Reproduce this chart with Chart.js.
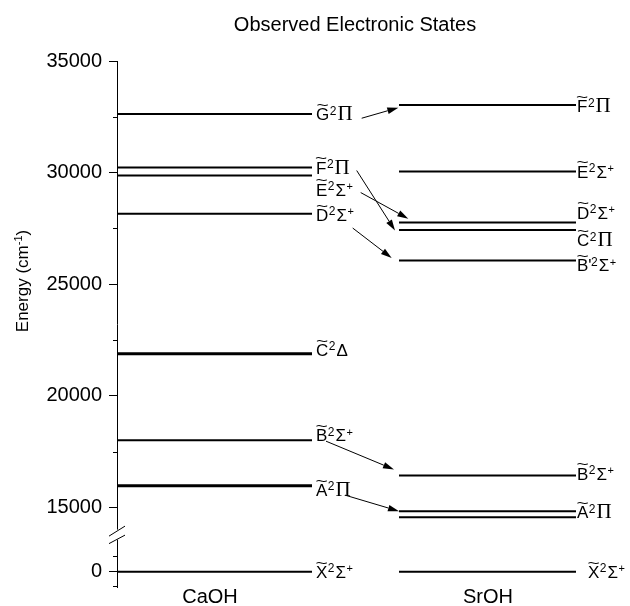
<!DOCTYPE html>
<html><head><meta charset="utf-8">
<script src="https://cdn.jsdelivr.net/npm/chart.js@4.4.1/dist/chart.umd.min.js"></script>
<style>html,body{margin:0;padding:0;background:#fff}#wrap{width:630px;height:606px}</style>
</head><body><div id="wrap"><canvas id="c" width="630" height="606"></canvas></div>
<script>
// ---------- data ----------
const categories = ['CaOH', 'SrOH'];
const yTickValues = [0, 15000, 20000, 25000, 30000, 35000];
const caohLabels = ['G:Π', 'F:Π', 'E:Σ+', 'D:Σ+', 'C:Δ', 'B:Σ+', 'A:Π', 'X:Σ+'];
const caohEnergies = [32630, 30230, 29870, 28160, 21890, 18020, 15980, 0];
const srohLabels = ['F:Π', 'E:Σ+', 'D:Σ+', 'C:Π', "B':Σ+", 'B:Σ+', 'A:Π', '', 'X:Σ+'];
const srohEnergies = [33030, 30050, 27770, 27430, 26070, 16440, 14840, 14570, 0];
const arrowFrom = [0, 1, 2, 3, 5, 6];   // CaOH level index
const arrowTo = [0, 3, 2, 4, 5, 6];     // SrOH level index

// ---------- layout / style ----------
const Y_MIN = 11445, Y_MAX = 35000, GROUND_PLOT = 12133, LOW_MINOR = 697;
function plotY(e) { return e < 5000 ? GROUND_PLOT + e : e; }
const X_MAX = 476;
const CA_SPAN = [0, 195], SR_SPAN = [282, 459];
const CA_LABEL_X = 199, SR_LABEL_X = 460;
const CAT_X = [93, 371];
const caohLineW = [2, 2, 2, 2, 3, 2, 3, 2];
const srohLineW = [2, 2, 2, 2, 2, 2, 2, 2, 2];
const caohLabelDy = [0, 0, 14, 1, -4, -5, 4, 0];
const srohLabelDy = [1, 0, -10, 10, 5, -2, 1, 0, 0];
const srohLabelDx = [0, 0, 0, 0, 0, 0, 0, 0, 11];
// [startX, startDy(px from CaOH level), endX, endDy(px from SrOH level)]
const arrowGeom = [[244.7, 4.3, 281.3, 2.7], [239.7, 3, 278, 0.4], [243.7, 17, 291.3, -3.7],
                   [235.7, 14.3, 274.7, -2.4], [209, 1, 277, -6], [228, 9.4, 282, 0]];
const SANS = '"Liberation Sans", Arial, Helvetica, sans-serif';
const SERIF = '"Liberation Serif", "Times New Roman", serif';

const datasets = [];
caohEnergies.forEach((e, i) => datasets.push({
  data: [{x: CA_SPAN[0], y: plotY(e)}, {x: CA_SPAN[1], y: plotY(e)}],
  borderColor: '#000', borderWidth: caohLineW[i], pointRadius: 0, showLine: true, borderCapStyle: 'butt'
}));
srohEnergies.forEach((e, i) => datasets.push({
  data: [{x: SR_SPAN[0], y: plotY(e)}, {x: SR_SPAN[1], y: plotY(e)}],
  borderColor: '#000', borderWidth: srohLineW[i], pointRadius: 0, showLine: true, borderCapStyle: 'butt'
}));

function drawState(ctx, x, yc, spec) {
  if (!spec) return;
  const [head, term] = spec.split(':');
  const letter = head[0], prime = head.slice(1);
  const FS = 17, CAP = 0.716 * FS;
  const base = yc + CAP / 2;
  ctx.save();
  ctx.fillStyle = '#000';
  ctx.textAlign = 'left'; ctx.textBaseline = 'alphabetic';
  ctx.font = FS + 'px ' + SANS;
  ctx.fillText(letter, x, base);
  const lw = ctx.measureText(letter).width;
  // tilde over the letter
  ctx.save();
  ctx.font = '16px ' + SANS;
  ctx.textAlign = 'center';
  ctx.translate(x + lw / 2, base - 10.2);
  ctx.scale(1.3, 0.9);
  ctx.fillText('~', 0, 0);
  ctx.restore();
  let cx = x + lw;
  if (prime) { ctx.fillText(prime, cx, base); cx += ctx.measureText(prime).width - 1; }
  ctx.font = '12px ' + SANS;
  ctx.fillText('2', cx + 0.5, base - 5.5);
  cx += ctx.measureText('2').width + 1.5;
  const sym = term[0], sup = term.slice(1);
  if (sym === 'Π') { ctx.font = '21px ' + SERIF; } else { ctx.font = FS + 'px ' + SANS; }
  ctx.fillText(sym, cx, base);
  cx += ctx.measureText(sym).width;
  if (sup) { ctx.font = '11px ' + SANS; ctx.fillText(sup, cx + 0.5, base - 5.5); }
  ctx.restore();
}

const decor = {
  id: 'decor',
  afterDraw(chart) {
    const ctx = chart.ctx, xs = chart.scales.x, ys = chart.scales.y;
    const axX = chart.chartArea.left;
    ctx.save();
    ctx.strokeStyle = '#000'; ctx.fillStyle = '#000'; ctx.lineWidth = 1;
    // minor ticks
    const minors = [17500, 22500, 27500, 32500, GROUND_PLOT + LOW_MINOR];
    minors.forEach(v => {
      const py = Math.round(ys.getPixelForValue(v)) + 0.5;
      ctx.beginPath(); ctx.moveTo(axX - 4, py); ctx.lineTo(axX, py); ctx.stroke();
    });
    const pb = Math.round(chart.chartArea.bottom) - 0.5;
    ctx.beginPath(); ctx.moveTo(axX - 4, pb); ctx.lineTo(axX, pb); ctx.stroke();
    // axis break
    const p15 = ys.getPixelForValue(15000);
    const gTop = p15 + 22, gBot = p15 + 32;
    ctx.fillStyle = '#fff';
    ctx.fillRect(axX - 3, gTop, 6, gBot - gTop);
    ctx.fillStyle = '#000';
    ctx.beginPath();
    ctx.moveTo(axX - 8, p15 + 28.5); ctx.lineTo(axX + 8, p15 + 18.5);
    ctx.moveTo(axX - 8, p15 + 36); ctx.lineTo(axX + 8, p15 + 27.5);
    ctx.stroke();
    // state labels
    caohLabels.forEach((s, i) => drawState(ctx, xs.getPixelForValue(CA_LABEL_X),
      ys.getPixelForValue(plotY(caohEnergies[i])) + caohLabelDy[i], s));
    srohLabels.forEach((s, i) => drawState(ctx, xs.getPixelForValue(SR_LABEL_X + srohLabelDx[i]),
      ys.getPixelForValue(plotY(srohEnergies[i])) + srohLabelDy[i], s));
    // arrows
    arrowFrom.forEach((f, k) => {
      const g = arrowGeom[k];
      const x1 = xs.getPixelForValue(g[0]), y1 = ys.getPixelForValue(plotY(caohEnergies[f])) + g[1];
      const x2 = xs.getPixelForValue(g[2]), y2 = ys.getPixelForValue(plotY(srohEnergies[arrowTo[k]])) + g[3];
      const ang = Math.atan2(y2 - y1, x2 - x1), L = 11, W = 3.3;
      const bx = x2 - L * Math.cos(ang), by = y2 - L * Math.sin(ang);
      ctx.beginPath(); ctx.moveTo(x1, y1); ctx.lineTo(bx, by); ctx.stroke();
      ctx.beginPath();
      ctx.moveTo(x2, y2);
      ctx.lineTo(bx + W * Math.sin(ang), by - W * Math.cos(ang));
      ctx.lineTo(bx - W * Math.sin(ang), by + W * Math.cos(ang));
      ctx.closePath(); ctx.fill();
    });
    // y-axis title with superscript
    ctx.save();
    ctx.translate(22, 281);
    ctx.rotate(-Math.PI / 2);
    ctx.textBaseline = 'alphabetic'; ctx.textAlign = 'left';
    const f1 = '17px ' + SANS, f2 = '11px ' + SANS;
    ctx.font = f1; const wA = ctx.measureText('Energy (cm').width, wC = ctx.measureText(')').width;
    ctx.font = f2; const wB = ctx.measureText('-1').width;
    let tx = -(wA + wB + wC) / 2;
    const bl = 6;
    ctx.font = f1; ctx.fillText('Energy (cm', tx, bl); tx += wA;
    ctx.font = f2; ctx.fillText('-1', tx, bl - 6); tx += wB;
    ctx.font = f1; ctx.fillText(')', tx, bl);
    ctx.restore();
    ctx.restore();
  }
};

new Chart(document.getElementById('c'), {
  type: 'scatter',
  data: {datasets},
  options: {
    responsive: false, animation: false,
    layout: {padding: {left: 0, right: 37, top: 0, bottom: 0}},
    plugins: {
      legend: {display: false}, tooltip: {enabled: false},
      title: {display: true, text: 'Observed Electronic States', fullSize: false, color: '#000',
              font: {family: SANS, size: 20, weight: 'normal'}, padding: {top: 13, bottom: 24}}
    },
    scales: {
      x: {
        type: 'linear', min: 0, max: X_MAX, bounds: 'data',
        grid: {display: false, drawTicks: false}, border: {display: false},
        afterBuildTicks: s => { s.ticks = CAT_X.map(v => ({value: v})); },
        afterFit: s => { s.height = 18; },
        ticks: {color: '#000', padding: -2, maxRotation: 0, autoSkip: false,
                font: {family: SANS, size: 20}, callback: (v, i) => categories[i]}
      },
      y: {
        type: 'linear', min: Y_MIN, max: Y_MAX, bounds: 'data',
        grid: {display: true, drawOnChartArea: false, drawTicks: true, tickLength: 8, tickColor: '#000', tickWidth: 1},
        border: {display: true, color: '#000', width: 1},
        afterBuildTicks: s => { s.ticks = yTickValues.map(v => ({value: plotY(v)})); },
        afterFit: s => { s.width = 117; },
        ticks: {color: '#000', padding: 7, autoSkip: false,
                font: {family: SANS, size: 20}, callback: (v, i) => String(yTickValues[i])}
      }
    }
  },
  plugins: [decor]
});
</script></body></html>
